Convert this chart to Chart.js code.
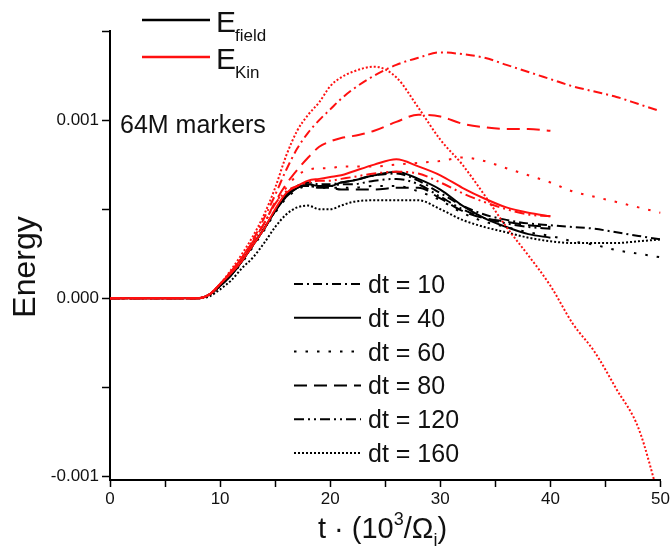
<!DOCTYPE html>
<html>
<head>
<meta charset="utf-8">
<script src="https://cdn.jsdelivr.net/npm/chart.js@4.4.1/dist/chart.umd.min.js"></script>
<style>
  html, body { margin: 0; padding: 0; background: #fff; }
</style>
</head>
<body>
<canvas id="energyChart" width="672" height="555"></canvas>
<script>
// time grid, t in units of 10^3/Omega_i
const tGrid = [0, 8, 9, 10, 11, 12, 13, 14, 15, 16, 17, 18, 19, 20, 21, 22, 24, 26, 28, 30, 32, 34, 36, 38, 40, 42, 44, 46, 48, 50];

// kinetic energy (red), one array per time step
const kin10 = [0, 0, 0.00002, 0.00008, 0.00015, 0.00023, 0.00033, 0.00045, 0.00058, 0.00072, 0.00084, 0.00093, 0.00100, 0.00106, 0.00112, 0.00117, 0.00125, 0.00131, 0.00135, 0.00138, 0.00137, 0.00135, 0.00131, 0.00127, 0.00123, 0.00119, 0.00116, 0.00113, 0.00109, 0.00105];
const kin40 = [0, 0, 0.00002, 0.00008, 0.00014, 0.00021, 0.00030, 0.00039, 0.00050, 0.00059, 0.00063, 0.00066, 0.00067, 0.00068, 0.00069, 0.00071, 0.00075, 0.00078, 0.00074, 0.00069, 0.00062, 0.00056, 0.00051, 0.00048, 0.00046, null, null, null, null, null];
const kin60 = [0, 0, 0.00002, 0.00008, 0.00015, 0.00023, 0.00032, 0.00042, 0.00053, 0.00062, 0.00069, 0.00072, 0.00073, 0.00073, 0.00074, 0.00074, 0.00074, 0.00075, 0.00076, 0.00077, 0.00079, 0.00077, 0.00073, 0.00069, 0.00065, 0.00060, 0.00057, 0.00054, 0.00051, 0.00048];
const kin80 = [0, 0, 0.00002, 0.00008, 0.00015, 0.00023, 0.00032, 0.00042, 0.00054, 0.00064, 0.00072, 0.00079, 0.00085, 0.00088, 0.00090, 0.00091, 0.00094, 0.00099, 0.00103, 0.00102, 0.00098, 0.00096, 0.00095, 0.00095, 0.00094, null, null, null, null, null];
const kin120 = [0, 0, 0.00002, 0.00008, 0.00015, 0.00023, 0.00032, 0.00042, 0.00053, 0.00060, 0.00063, 0.00065, 0.00066, 0.00066, 0.00067, 0.00068, 0.00070, 0.00071, 0.00070, 0.00065, 0.00059, 0.00054, 0.00050, 0.00047, 0.00046, null, null, null, null, null];
const kin160 = [0, 0, 0.00002, 0.00008, 0.00016, 0.00025, 0.00035, 0.00047, 0.00062, 0.00080, 0.00094, 0.00103, 0.00110, 0.00119, 0.00124, 0.00127, 0.00130, 0.00124, 0.00107, 0.00089, 0.00075, 0.00058, 0.00040, 0.00024, 0.00007, -0.00014, -0.00030, -0.00051, -0.00073, -0.00115];

// field energy (black)
const fld10 = [0, 0, 0.00002, 0.00007, 0.00013, 0.00021, 0.00030, 0.00039, 0.00049, 0.00058, 0.00063, 0.00065, 0.00064, 0.00064, 0.00065, 0.00066, 0.00069, 0.00070, 0.00066, 0.00059, 0.00052, 0.00047, 0.00044, 0.00042, 0.00041, 0.00040, 0.00039, 0.00037, 0.00035, 0.00033];
const fld40 = [0, 0, 0.00002, 0.00007, 0.00013, 0.00021, 0.00030, 0.00039, 0.00049, 0.00057, 0.00062, 0.00064, 0.00063, 0.00063, 0.00065, 0.00066, 0.00069, 0.00071, 0.00067, 0.00061, 0.00052, 0.00045, 0.00040, 0.00036, 0.00034, null, null, null, null, null];
const fld60 = [0, 0, 0.00002, 0.00007, 0.00013, 0.00020, 0.00029, 0.00038, 0.00048, 0.00056, 0.00061, 0.00063, 0.00062, 0.00062, 0.00062, 0.00062, 0.00063, 0.00063, 0.00060, 0.00055, 0.00048, 0.00043, 0.00040, 0.00037, 0.00035, 0.00032, 0.00030, 0.00027, 0.00025, 0.00023];
const fld80 = [0, 0, 0.00002, 0.00007, 0.00013, 0.00021, 0.00030, 0.00039, 0.00049, 0.00058, 0.00063, 0.00063, 0.00062, 0.00062, 0.00061, 0.00061, 0.00061, 0.00062, 0.00062, 0.00056, 0.00049, 0.00045, 0.00043, 0.00041, 0.00040, null, null, null, null, null];
const fld120 = [0, 0, 0.00002, 0.00007, 0.00013, 0.00021, 0.00030, 0.00039, 0.00049, 0.00057, 0.00062, 0.00064, 0.00063, 0.00063, 0.00064, 0.00064, 0.00066, 0.00067, 0.00064, 0.00057, 0.00050, 0.00045, 0.00042, 0.00040, 0.00039, null, null, null, null, null];
const fld160 = [0, 0, 0.00001, 0.00005, 0.00010, 0.00017, 0.00023, 0.00031, 0.00040, 0.00047, 0.00051, 0.00052, 0.00050, 0.00050, 0.00052, 0.00054, 0.00055, 0.00055, 0.00055, 0.00050, 0.00044, 0.00040, 0.00037, 0.00034, 0.00032, 0.00031, 0.00031, 0.00031, 0.00032, 0.00033];

const dtLabels = ['dt = 10', 'dt = 40', 'dt = 60', 'dt = 80', 'dt = 120', 'dt = 160'];
const xTickValues = [0, 5, 10, 15, 20, 25, 30, 35, 40, 45, 50];
const yTickValues = [-0.001, -0.0005, 0, 0.0005, 0.001, 0.0015];
const yTickLabels = ['-0.001', '', '0.000', '', '0.001', ''];

// line style per time step, same order as dtLabels
const dashes = [
    [9, 4, 2, 4],          // dash-dot
    [],                    // solid
    [2.5, 9],              // sparse dots
    [13, 7],               // dashes
    [10, 4, 2, 4, 2, 4],   // dash-dot-dot
    [2, 2]                 // dense dots
];

const FONT = "'Liberation Sans', Arial, sans-serif";
const RED = '#ff1010';

function toPoints(values) {
    return tGrid.map((t, i) => ({ x: t, y: values[i] }));
}

function series(values, color, k) {
    return {
        data: toPoints(values),
        borderColor: color,
        borderWidth: 2,
        borderDash: dashes[k],
        pointRadius: 0,
        fill: false,
        spanGaps: false,
        cubicInterpolationMode: 'monotone'
    };
}

const kinSets = [kin10, kin40, kin60, kin80, kin120, kin160];
const fldSets = [fld10, fld40, fld60, fld80, fld120, fld160];

// red first so it sits on top of the black curves
const datasets = [
    ...kinSets.map((v, k) => series(v, RED, k)),
    ...fldSets.map((v, k) => series(v, '#000', k))
];

// legends and axis titles drawn straight on the canvas
const annotations = {
    id: 'annotations',
    afterDraw(chart) {
        const ctx = chart.ctx;
        ctx.save();
        ctx.fillStyle = '#111';
        ctx.textBaseline = 'alphabetic';

        // E_field / E_Kin
        ctx.lineWidth = 2.5;
        ctx.setLineDash([]);
        ctx.strokeStyle = '#000';
        ctx.beginPath(); ctx.moveTo(142, 20); ctx.lineTo(210, 20); ctx.stroke();
        ctx.strokeStyle = RED;
        ctx.beginPath(); ctx.moveTo(142, 57); ctx.lineTo(210, 57); ctx.stroke();
        ctx.textAlign = 'left';
        ctx.font = '30px ' + FONT;
        ctx.fillText('E', 216, 32);
        ctx.fillText('E', 216, 69);
        ctx.font = '17px ' + FONT;
        ctx.fillText('field', 235, 41);
        ctx.fillText('Kin', 235, 78);

        ctx.font = '25px ' + FONT;
        ctx.fillText('64M markers', 120, 133);

        // time step legend
        ctx.lineWidth = 2;
        ctx.strokeStyle = '#000';
        dtLabels.forEach((label, k) => {
            const y = 284 + k * 33.8;
            ctx.setLineDash(dashes[k]);
            ctx.beginPath(); ctx.moveTo(294, y); ctx.lineTo(361, y); ctx.stroke();
            ctx.setLineDash([]);
            ctx.font = '25px ' + FONT;
            ctx.fillText(label, 368, y + 9);
        });

        // y title
        ctx.save();
        ctx.translate(35, 267);
        ctx.rotate(-Math.PI / 2);
        ctx.textAlign = 'center';
        ctx.font = '32px ' + FONT;
        ctx.fillText('Energy', 0, 0);
        ctx.restore();

        // x title: t · (10^3/Ω_i)
        let x = 318;
        const base = 538;
        const parts = [
            ['t \u00b7 (10', 29, 0],
            ['3', 18, -13],
            ['/\u03a9', 29, 0],
            ['i', 18, 8],
            [')', 29, 0]
        ];
        ctx.textAlign = 'left';
        parts.forEach(([txt, size, dy]) => {
            ctx.font = size + 'px ' + FONT;
            ctx.fillText(txt, x, base + dy);
            x += ctx.measureText(txt).width;
        });
        ctx.restore();
    }
};

new Chart(document.getElementById('energyChart'), {
    type: 'line',
    data: { datasets: datasets },
    options: {
        responsive: false,
        animation: false,
        devicePixelRatio: 1,
        layout: { padding: { top: 31, right: 9, left: 0, bottom: 0 } },
        plugins: {
            legend: { display: false },
            tooltip: { enabled: false }
        },
        scales: {
            x: {
                type: 'linear',
                min: 0,
                max: 50,
                afterBuildTicks: scale => { scale.ticks = xTickValues.map(v => ({ value: v })); },
                afterFit: scale => { scale.height = 75; },
                border: { display: true, color: '#000', width: 2 },
                grid: { drawOnChartArea: false, drawTicks: true, tickLength: 7, color: '#000', tickWidth: 1.5 },
                ticks: {
                    color: '#111',
                    padding: 2,
                    maxRotation: 0,
                    autoSkip: false,
                    font: { family: FONT, size: 17 },
                    callback: v => (v % 10 === 0 ? String(v) : '')
                }
            },
            y: {
                type: 'linear',
                min: -0.00102,
                max: 0.0015,
                afterBuildTicks: scale => { scale.ticks = yTickValues.map(v => ({ value: v })); },
                afterFit: scale => { scale.width = 110; },
                border: { display: true, color: '#000', width: 2 },
                grid: { drawOnChartArea: false, drawTicks: true, tickLength: 8, color: '#000', tickWidth: 1.5 },
                ticks: {
                    color: '#111',
                    padding: 3,
                    autoSkip: false,
                    font: { family: FONT, size: 17 },
                    callback: (v, i) => yTickLabels[i]
                }
            }
        }
    },
    plugins: [annotations]
});
</script>
</body>
</html>
